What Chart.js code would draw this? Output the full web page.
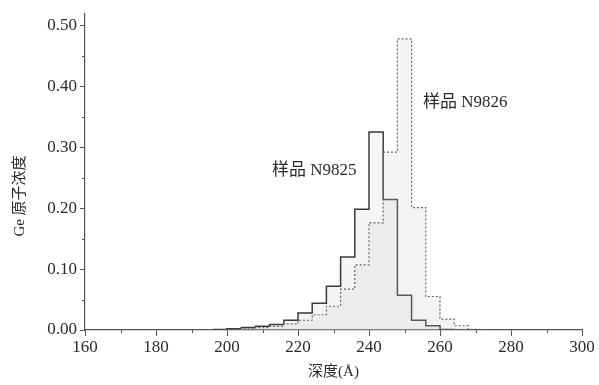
<!DOCTYPE html>
<html>
<head>
<meta charset="utf-8">
<script src="https://cdn.jsdelivr.net/npm/chart.js@4.4.0/dist/chart.umd.min.js"></script>
<style>
  html, body { margin: 0; padding: 0; background: #fff; }
  #wrap { width: 599px; height: 385px; }
</style>
</head>
<body>
<div id="wrap"><canvas id="chart1"></canvas></div>
<script>
// bin left edges (Å), bins are 4 Å wide
var binEdges = [196, 200, 204, 208, 212, 216, 220, 224, 228, 232, 236, 240, 244, 248, 252, 256, 260, 264, 268];
var binWidth = 4;
var n9825 = [0.001, 0.002, 0.004, 0.006, 0.009, 0.016, 0.028, 0.044, 0.072, 0.120, 0.198, 0.325, 0.214, 0.057, 0.016, 0.007, 0.001, 0, 0];
var n9826 = [0, 0.001, 0.002, 0.004, 0.006, 0.010, 0.016, 0.025, 0.039, 0.067, 0.107, 0.176, 0.292, 0.478, 0.201, 0.055, 0.018, 0.007, 0.001];
var xTicks = [160, 180, 200, 220, 240, 260, 280, 300];
var yTicks = [0, 0.1, 0.2, 0.3, 0.4, 0.5];
var labels = [
  { text: "样品 N9825", x: 236.5, y: 0.262, align: "right" },
  { text: "样品 N9826", x: 255.2, y: 0.374, align: "left" }
];

var serif = "'Liberation Serif', 'Noto Sans CJK SC', serif";
var axisColor = "#555";

function pasos(vals){
  var pts = [];
  for (var i = 0; i < binEdges.length; i++) {
    pts.push({ x: binEdges[i], y: vals[i] });
  }
  pts.push({ x: binEdges[binEdges.length - 1] + binWidth, y: 0 });
  return pts;
}

var marcas = {
  id: "marcas",
  afterDraw: function(chart){
    var ctx = chart.ctx;
    var xs = chart.scales.x, ys = chart.scales.y;
    ctx.save();
    ctx.strokeStyle = axisColor;
    ctx.lineWidth = 1;
    // minor ticks
    for (var v = 170; v < 300; v += 20) {
      var px = Math.round(xs.getPixelForValue(v)) + 0.5;
      ctx.beginPath(); ctx.moveTo(px, ys.bottom); ctx.lineTo(px, ys.bottom + 3); ctx.stroke();
    }
    for (var k = 0; k < 5; k++) {
      var py = Math.round(ys.getPixelForValue(0.05 + k * 0.1)) + 0.5;
      ctx.beginPath(); ctx.moveTo(xs.left, py); ctx.lineTo(xs.left - 3, py); ctx.stroke();
    }
    // annotations
    ctx.fillStyle = "#2a2a2a";
    ctx.font = "17px " + serif;
    ctx.textBaseline = "middle";
    labels.forEach(function(l){
      ctx.textAlign = l.align;
      ctx.fillText(l.text, xs.getPixelForValue(l.x), ys.getPixelForValue(l.y));
    });
    // y title
    ctx.translate(20, 196);
    ctx.rotate(-Math.PI / 2);
    ctx.textAlign = "center";
    ctx.font = "15px " + serif;
    ctx.fillText("Ge 原子浓度", 0, 0);
    ctx.restore();
  }
};

var datos = {
  type: "line",
  data: {
    datasets: [{
      label: "样品 N9826",
      data: pasos(n9826),
      stepped: "before",
      borderColor: "#666",
      borderWidth: 1.2,
      borderDash: [2, 2],
      backgroundColor: "rgba(200,200,200,0.22)",
      fill: "origin",
      pointRadius: 0
    }, {
      label: "样品 N9825",
      data: pasos(n9825),
      stepped: "before",
      borderColor: "#3a3a3a",
      borderWidth: 1.5,
      backgroundColor: "rgba(200,200,200,0.18)",
      fill: "origin",
      pointRadius: 0
    }]
  },
  options: {
    responsive: true,
    maintainAspectRatio: false,
    animation: false,
    layout: { padding: { top: 13, right: 17, left: 0, bottom: 0 } },
    plugins: { legend: { display: false }, tooltip: { enabled: false } },
    scales: {
      x: {
        type: "linear",
        min: 160, max: 300,
        afterFit: function(s){ s.height = 55; },
        afterBuildTicks: function(s){ s.ticks = xTicks.map(function(v){ return { value: v }; }); },
        border: { color: axisColor, width: 1.2 },
        grid: { drawOnChartArea: false, tickLength: 6, color: axisColor },
        ticks: { color: "#2a2a2a", padding: 1, maxRotation: 0, font: { family: serif, size: 17 } },
        title: { display: true, text: "深度(Å)", color: "#2a2a2a", font: { family: serif, size: 15 }, padding: { top: 0, bottom: 4 } }
      },
      y: {
        min: 0, max: 0.52,
        afterFit: function(s){ s.width = 85; },
        afterBuildTicks: function(s){ s.ticks = yTicks.map(function(v){ return { value: v }; }); },
        border: { color: axisColor, width: 1.2 },
        grid: { drawOnChartArea: false, tickLength: 5, color: axisColor },
        ticks: {
          color: "#2a2a2a", padding: 3,
          font: { family: serif, size: 17 },
          callback: function(v){ return Number(v).toFixed(2); }
        }
      }
    }
  },
  plugins: [marcas]
};

var canvas = document.getElementById("chart1").getContext("2d");
window.grafico = new Chart(canvas, datos);
</script>
</body>
</html>
